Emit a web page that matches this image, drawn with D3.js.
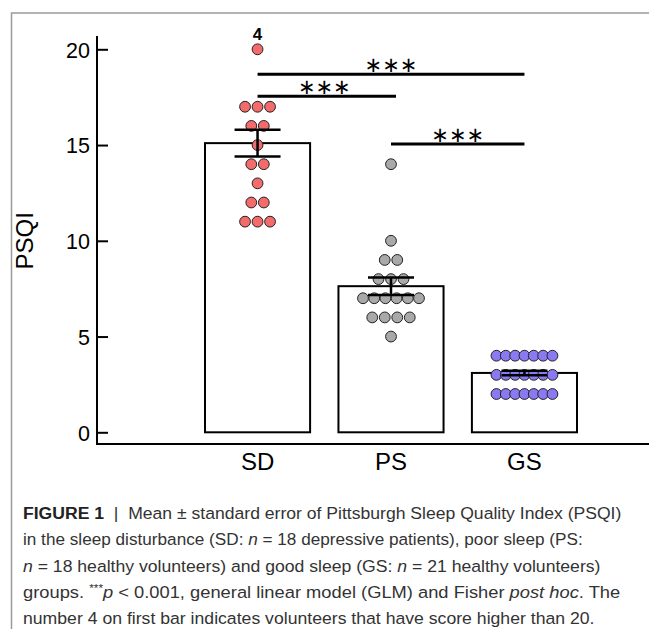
<!DOCTYPE html>
<html>
<head>
<meta charset="utf-8">
<script src="https://cdn.jsdelivr.net/npm/d3@7"></script>
<style>
  body { margin: 0; background: #fff; }
  svg { display: block; }
</style>
</head>
<body>
<svg id="chart"></svg>
<script>
const categories = ['SD', 'PS', 'GS'];
const means = [15.1, 7.63, 3.1];
const sems = [0.7, 0.46, 0.12];
const sdScores = [20, 17, 17, 17, 16, 16, 15, 14, 14, 13, 12, 12, 11, 11, 11];
const psScores = [14, 10, 9, 9, 8, 8, 8, 7, 7, 7, 7, 7, 7, 6, 6, 6, 6, 5];
const gsScores = [4, 4, 4, 4, 4, 4, 4, 3, 3, 3, 3, 3, 3, 3, 2, 2, 2, 2, 2, 2, 2];
const yTicks = [0, 5, 10, 15, 20];
const overLimitLabel = '4';
// [from group, to group, height in PSQI units]
const comparisons = [[0, 2, 18.7], [0, 1, 17.55], [1, 2, 15.05]];

const width = 649, height = 629;
const dotFill = ['#f36b6b', '#a9a9a9', '#8979f2'];

const svg = d3.select('#chart')
  .attr('width', width)
  .attr('height', height)
  .attr('viewBox', `0 0 ${width} ${height}`)
  .style('font-family', '"Liberation Sans", Arial, sans-serif');

// figure frame
svg.append('rect')
  .attr('x', 11.5).attr('y', 13)
  .attr('width', 700).attr('height', 700)
  .attr('fill', 'none')
  .attr('stroke', '#9a9a9a')
  .attr('stroke-width', 1.5);

const x = d3.scaleBand()
  .domain(categories)
  .range([205, 577])
  .paddingInner(0.2125)
  .paddingOuter(0);
const y = d3.scaleLinear()
  .domain([0, 20])
  .range([432.3, 49.3]);

const axisX = 97, baseY = 444;

// y axis (ticks point inward)
const yAxis = svg.append('g')
  .attr('transform', `translate(${axisX},0)`)
  .call(d3.axisLeft(y).tickValues(yTicks).tickSize(-11).tickPadding(7));
yAxis.select('.domain').remove();
yAxis.selectAll('line').attr('stroke', '#000').attr('stroke-width', 2);
yAxis.selectAll('text')
  .attr('fill', '#000')
  .attr('dy', '0.36em')
  .style('font-size', '21.5px');
svg.append('line')
  .attr('x1', axisX).attr('x2', axisX)
  .attr('y1', 36).attr('y2', baseY + 1)
  .attr('stroke', '#000').attr('stroke-width', 2);

// x axis
const xAxis = svg.append('g')
  .attr('transform', `translate(0,${baseY})`)
  .call(d3.axisBottom(x).tickSize(0).tickPadding(9));
xAxis.select('.domain').remove();
xAxis.selectAll('text')
  .attr('fill', '#000')
  .style('font-size', '24px');
svg.append('line')
  .attr('x1', axisX - 1).attr('x2', width)
  .attr('y1', baseY).attr('y2', baseY)
  .attr('stroke', '#000').attr('stroke-width', 2);

svg.append('text')
  .attr('transform', `translate(33,${y(10)}) rotate(-90)`)
  .attr('text-anchor', 'middle')
  .style('font-size', '24px')
  .text('PSQI');

// bars
svg.append('g')
  .selectAll('rect')
  .data(categories)
  .enter().append('rect')
    .attr('x', d => x(d))
    .attr('y', (d, i) => y(means[i]))
    .attr('width', x.bandwidth())
    .attr('height', (d, i) => y(0) - y(means[i]))
    .attr('fill', '#fff')
    .attr('stroke', '#000')
    .attr('stroke-width', 2);

// individual scores, laid out in centred rows
const groups = [sdScores, psScores, gsScores];
const dots = [];
groups.forEach((scores, gi) => {
  const cx = x(categories[gi]) + x.bandwidth() / 2;
  d3.groups(scores, v => v).forEach(([value, rows]) => {
    const n = rows.length;
    const step = n > 1 ? Math.min(12.5, 56 / (n - 1)) : 0;
    rows.forEach((v, k) => {
      dots.push({ gi, value, px: cx + (k - (n - 1) / 2) * step });
    });
  });
});
svg.append('g')
  .selectAll('circle')
  .data(dots)
  .enter().append('circle')
    .attr('cx', d => d.px)
    .attr('cy', d => y(d.value))
    .attr('r', 5.4)
    .attr('fill', d => dotFill[d.gi])
    .attr('stroke', '#222')
    .attr('stroke-width', 1);

// error bars
const capW = 46;
const err = svg.append('g')
  .selectAll('g')
  .data(categories)
  .enter().append('g')
    .attr('stroke', '#000')
    .attr('stroke-width', 2.5);
err.append('line')
  .attr('x1', d => x(d) + x.bandwidth() / 2)
  .attr('x2', d => x(d) + x.bandwidth() / 2)
  .attr('y1', (d, i) => y(means[i] - sems[i]))
  .attr('y2', (d, i) => y(means[i] + sems[i]));
[-1, 1].forEach(s => {
  err.append('line')
    .attr('x1', d => x(d) + x.bandwidth() / 2 - capW / 2)
    .attr('x2', d => x(d) + x.bandwidth() / 2 + capW / 2)
    .attr('y1', (d, i) => y(means[i] + s * sems[i]))
    .attr('y2', (d, i) => y(means[i] + s * sems[i]));
});

// count above the axis limit
svg.append('text')
  .attr('x', x('SD') + x.bandwidth() / 2)
  .attr('y', y(20) - 9)
  .attr('text-anchor', 'middle')
  .style('font-size', '17px')
  .style('font-weight', 'bold')
  .text(overLimitLabel);

// significance brackets
const mid = c => x(categories[c]) + x.bandwidth() / 2;
const sig = svg.append('g')
  .selectAll('g')
  .data(comparisons)
  .enter().append('g');
sig.append('line')
  .attr('x1', d => mid(d[0]))
  .attr('x2', d => mid(d[1]) + (d[1] === 1 ? 5 : 0))
  .attr('y1', d => y(d[2]))
  .attr('y2', d => y(d[2]))
  .attr('stroke', '#000')
  .attr('stroke-width', 3);
sig.append('text')
  .attr('x', d => (mid(d[0]) + mid(d[1])) / 2)
  .attr('y', d => y(d[2]) - 2)
  .attr('text-anchor', 'middle')
  .style('font-family', '"DejaVu Sans", sans-serif')
  .style('font-size', '21px')
  .text('\u2217\u2217\u2217');

// caption
const captionLines = [
  [['FIGURE 1', 'b'], ['  |  ', ''], ['Mean \u00b1 standard error of Pittsburgh Sleep Quality Index (PSQI)', '']],
  [['in the sleep disturbance (SD: ', ''], ['n', 'i'], [' = 18 depressive patients), poor sleep (PS:', '']],
  [['n', 'i'], [' = 18 healthy volunteers) and good sleep (GS: ', ''], ['n', 'i'], [' = 21 healthy volunteers)', '']],
  [['groups. ', ''], ['***', 's'], ['p', 'i'], [' < 0.001, general linear model (GLM) and Fisher ', ''], ['post hoc', 'i'], ['. The', '']],
  [['number 4 on first bar indicates volunteers that have score higher than 20.', '']]
];
const captionEnds = [622, 583, 601, 621, 595];
const capX = 23;
const cap = svg.append('g')
  .attr('fill', '#333')
  .style('font-size', '17px');
captionLines.forEach((parts, li) => {
  const t = cap.append('text')
    .attr('x', capX)
    .attr('y', 519 + li * 26.3)
    .attr('xml:space', 'preserve');
  parts.forEach(([str, kind]) => {
    const ts = t.append('tspan').text(str);
    if (kind === 'b') ts.attr('font-weight', 'bold').attr('fill', '#222');
    if (kind === 'i') ts.attr('font-style', 'italic');
    if (kind === 's') ts.attr('font-size', '11px').attr('dy', -6);
    if (kind === 'i' && li === 3 && str === 'p') ts.attr('dy', 6);
  });
  const w = t.node().getBBox().width;
  const s = (captionEnds[li] - capX) / w;
  t.attr('transform', `translate(${capX},0) scale(${s},1) translate(${-capX},0)`);
});
</script>
</body>
</html>
